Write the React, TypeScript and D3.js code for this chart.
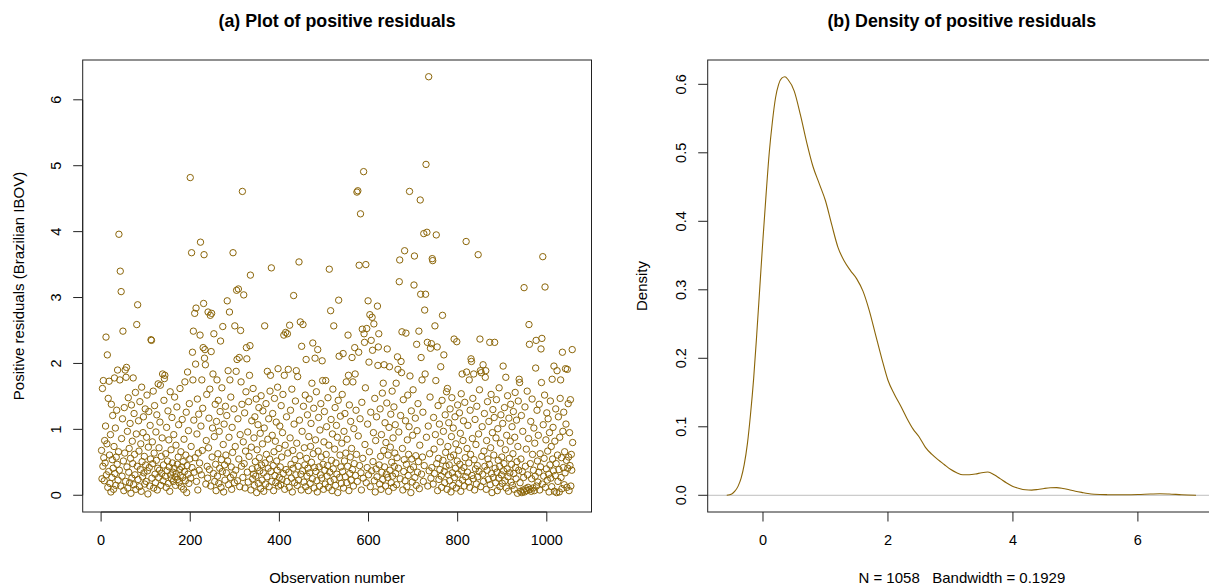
import React from "react";
import * as d3 from "d3";

// Positive residuals, observation 1..1058
const residuals: number[] = [
  0.68,0.25,1.62,0.44,1.74,0.57,0.22,0.83,0.49,1.05,2.40,0.31,0.78,2.13,0.12,1.47,0.36,1.73,0.61,0.18,
  0.92,0.05,1.38,0.27,0.54,1.21,0.41,0.09,0.74,1.78,0.33,1.02,0.15,0.58,1.29,0.47,1.90,0.23,0.66,3.96,
  0.38,1.75,3.40,0.14,3.09,0.86,0.29,1.16,2.49,0.52,0.07,1.33,0.64,1.90,0.21,1.79,1.94,0.43,0.97,0.11,
  1.48,0.35,0.71,0.19,1.09,0.56,0.03,1.37,0.26,0.82,0.48,1.78,0.16,1.24,0.62,0.31,1.56,0.09,0.93,2.59,
  0.44,2.89,0.24,1.13,0.67,0.13,1.42,0.39,0.78,0.06,1.64,0.51,0.28,0.95,1.19,0.34,0.59,0.17,1.31,0.46,
  0.21,0.88,1.52,0.37,0.02,0.73,1.27,0.42,0.14,1.06,0.55,2.36,2.35,0.26,0.81,0.48,1.58,0.11,0.64,1.36,
  0.32,0.19,0.96,0.53,1.22,0.08,0.41,1.69,0.27,0.72,0.38,1.11,1.67,0.15,0.59,0.33,0.87,1.84,0.22,0.46,
  1.44,1.77,1.82,0.29,0.63,0.12,1.03,0.37,0.52,1.28,0.18,0.84,0.43,0.06,1.57,0.31,0.69,0.25,1.18,0.49,
  0.35,0.21,0.92,0.41,1.49,0.28,0.15,0.76,0.33,1.34,0.47,0.24,0.58,1.07,0.19,0.39,1.62,0.30,0.66,0.13,
  0.43,1.15,0.27,0.51,0.09,0.85,0.36,1.72,0.22,0.61,1.26,0.04,0.45,1.87,0.32,0.98,0.18,1.39,0.55,4.82,
  0.26,0.74,3.68,0.42,2.17,1.75,2.49,1.14,0.35,2.76,0.57,1.99,2.84,0.21,0.93,1.46,0.08,0.64,1.23,0.38,
  0.49,2.43,3.84,1.05,0.31,1.75,0.68,1.32,2.24,2.91,3.65,2.08,2.21,1.98,0.17,0.83,1.53,0.44,0.26,2.78,
  0.72,1.17,0.39,1.61,2.73,0.14,2.18,2.76,0.58,1.02,1.84,0.33,2.45,0.89,0.21,1.38,0.47,0.07,1.12,1.75,
  0.29,0.63,1.44,0.18,0.97,0.41,1.27,2.34,0.12,0.54,1.63,0.36,2.56,0.77,0.05,1.08,0.46,0.23,1.35,0.61,
  0.34,1.21,2.95,0.52,1.89,0.16,0.88,2.78,1.75,0.27,1.49,0.43,0.09,1.03,0.65,3.68,0.31,1.31,0.19,2.57,
  0.74,0.38,1.88,3.11,2.06,0.22,1.16,3.13,0.55,2.09,0.13,0.92,2.50,1.72,0.44,1.38,4.61,0.27,0.81,3.04,
  0.48,1.25,0.11,0.67,1.57,2.24,2.07,0.35,0.96,0.20,1.42,0.59,1.82,2.27,3.34,0.08,0.73,1.13,0.40,0.25,
  1.62,0.32,0.87,0.15,1.19,0.51,0.29,1.46,0.04,0.69,0.42,1.07,0.18,1.33,0.57,0.37,0.94,0.10,1.51,0.46,
  0.23,0.78,1.28,0.34,0.06,1.02,2.57,0.49,0.17,1.39,0.62,0.28,1.88,0.85,0.41,1.16,0.13,0.55,1.58,1.82,
  0.36,3.45,0.21,0.91,1.24,0.45,0.07,0.66,1.47,0.30,0.82,0.19,1.11,0.52,0.38,1.64,1.92,0.14,0.71,0.27,
  1.05,0.43,0.16,1.36,0.58,0.24,0.95,1.53,0.33,2.43,1.82,0.09,0.76,2.47,0.39,1.19,0.21,2.45,0.64,1.91,
  0.35,0.12,2.58,0.87,1.29,0.47,0.26,1.61,0.05,0.68,0.41,3.03,1.08,0.19,0.54,1.43,0.31,1.89,0.79,0.15,
  1.80,0.44,0.23,3.54,1.14,0.60,2.63,0.32,0.08,2.26,0.97,0.37,2.59,1.35,0.20,0.72,0.46,1.52,0.13,2.06,
  0.56,0.29,1.22,0.41,0.07,0.89,1.46,0.34,0.18,0.74,1.09,0.50,1.70,0.25,2.31,0.63,1.32,0.11,0.42,2.08,
  0.84,0.36,1.57,0.22,0.05,2.21,0.67,1.18,0.43,0.14,0.99,0.31,1.39,0.58,0.26,2.04,1.74,0.47,0.09,0.81,
  1.27,0.38,0.17,1.74,0.62,1.04,0.29,0.45,1.48,0.12,0.76,3.43,0.35,0.21,2.80,1.15,0.53,0.07,0.93,1.61,
  0.40,2.57,0.24,0.70,1.33,0.15,0.49,1.06,0.32,0.88,0.04,1.44,2.96,2.11,0.27,0.61,1.20,0.43,0.18,0.79,
  1.53,0.36,2.15,0.11,0.97,0.52,1.24,0.28,0.64,1.72,0.19,0.85,0.44,2.43,1.82,0.07,1.37,0.33,0.58,1.12,
  0.23,0.71,2.09,0.39,1.72,0.14,1.01,0.48,2.24,1.84,0.30,1.29,0.62,4.60,0.21,4.62,0.90,2.17,3.49,0.45,
  1.16,4.27,0.34,0.08,1.41,2.52,0.56,0.26,4.91,2.45,2.32,0.77,1.63,3.50,0.19,2.53,0.42,1.08,2.95,0.31,
  2.02,0.66,2.74,0.13,1.26,2.35,0.37,2.70,2.20,0.51,0.95,2.60,0.22,1.47,0.05,0.83,0.40,1.19,0.28,2.87,
  1.97,2.25,2.45,0.46,0.17,1.31,0.59,0.09,0.92,0.35,1.55,0.24,1.70,0.68,1.98,0.43,1.10,0.14,0.80,0.32,
  1.40,2.22,0.27,0.61,0.06,1.03,1.95,0.38,0.73,1.23,0.19,0.50,1.58,0.29,0.87,0.12,1.34,0.44,0.64,1.07,
  0.33,1.70,0.16,0.57,2.10,1.91,0.41,0.96,3.24,3.57,0.25,1.21,2.03,1.86,2.48,0.71,0.08,1.45,0.36,0.54,
  3.71,0.22,1.13,2.46,0.47,0.13,0.84,1.52,0.30,0.62,1.04,4.61,1.81,0.39,0.04,1.28,0.55,0.20,0.91,1.60,
  0.43,3.19,3.63,0.27,1.17,0.60,0.15,2.29,0.98,0.35,1.39,0.51,2.49,0.10,0.76,4.48,3.05,2.09,0.32,1.75,
  0.58,1.26,0.21,3.97,0.45,2.81,1.84,3.05,5.02,0.88,3.99,2.32,0.14,1.05,6.35,0.37,0.63,1.49,2.23,0.26,
  2.30,0.42,3.59,3.56,0.17,1.18,0.70,0.33,2.57,0.92,1.74,3.95,0.48,2.25,0.07,1.36,0.56,0.24,1.08,0.39,
  0.81,1.95,0.29,0.12,1.44,2.73,0.53,0.97,2.13,0.36,0.19,1.22,0.65,0.44,1.57,0.09,1.62,0.74,0.31,1.10,
  0.46,0.22,1.31,0.58,0.05,0.89,1.48,0.34,0.15,1.02,0.61,2.37,0.27,1.19,0.41,0.78,0.11,2.33,0.52,1.37,
  0.32,0.68,0.18,1.25,0.47,0.94,0.06,1.54,0.37,1.84,0.23,0.83,1.13,0.42,0.14,1.41,0.57,0.28,3.85,1.87,
  0.71,0.35,1.06,0.20,0.49,1.75,0.12,1.29,0.62,2.07,2.03,0.30,0.86,1.47,0.25,1.84,0.54,0.08,1.15,0.40,
  0.77,0.17,1.35,0.45,0.28,3.65,0.93,0.36,1.60,2.37,1.89,0.13,1.86,0.59,1.04,0.32,1.98,0.21,0.67,1.24,
  0.44,1.79,1.89,0.09,0.83,0.38,1.42,0.55,0.24,1.12,0.47,2.32,0.16,0.72,1.53,0.33,0.04,0.95,1.30,0.27,
  0.61,1.18,2.32,0.41,0.19,0.87,1.45,0.35,0.07,1.01,0.53,0.26,1.63,0.44,0.13,0.79,1.22,0.31,0.58,0.18,
  1.09,1.96,0.37,0.48,1.33,0.22,0.69,1.79,0.11,0.91,0.40,1.51,0.28,0.06,1.17,0.56,0.34,0.82,1.38,0.20,
  0.47,1.04,0.15,0.63,1.27,0.33,0.09,0.88,1.56,0.42,0.25,1.14,0.51,0.03,0.74,1.43,0.38,1.76,1.71,0.19,
  0.06,0.55,1.21,0.04,0.36,0.97,0.08,0.27,3.15,0.05,1.34,0.44,0.10,0.70,0.07,1.58,0.31,0.12,0.86,2.59,
  2.29,0.09,0.48,1.12,0.06,0.25,1.46,0.62,0.11,0.38,1.02,0.07,0.79,0.29,1.93,2.35,0.14,1.29,0.52,0.20,
  0.91,0.35,1.38,0.08,0.63,0.43,2.22,1.71,2.38,0.17,3.62,1.07,0.29,0.56,1.52,3.16,0.12,0.84,0.40,1.25,
  0.23,0.67,1.16,0.32,0.05,0.95,0.46,1.43,0.26,0.74,0.13,1.76,0.55,1.03,0.37,1.96,0.06,0.82,0.30,1.31,
  0.48,0.04,1.89,0.61,0.21,1.19,0.39,0.05,0.88,1.47,1.75,0.27,0.57,0.10,2.17,0.97,0.42,1.26,0.16,0.66,
  0.34,1.92,1.08,0.53,0.12,1.91,0.41,1.39,0.58,0.07,0.95,0.45,1.45,0.14,0.62,0.38,2.21,0.80,
];

const xTicksA = [0, 200, 400, 600, 800, 1000];
const yTicksA = [0, 1, 2, 3, 4, 5, 6];

// Kernel density curve
const densityX = [
  -0.58, -0.5, -0.45, -0.4, -0.35, -0.3, -0.25, -0.2, -0.15, -0.1, -0.05, 0, 0.05, 0.1, 0.15, 0.2, 0.25,
  0.3, 0.35, 0.4, 0.5, 0.6, 0.7, 0.8, 0.9, 1.0, 1.1, 1.2, 1.3, 1.4, 1.5, 1.6, 1.7, 1.8, 1.9, 2.0, 2.1,
  2.2, 2.3, 2.4, 2.5, 2.6, 2.7, 2.8, 2.9, 3.0, 3.1, 3.2, 3.3, 3.4, 3.5, 3.6, 3.7, 3.8, 3.9, 4.0, 4.1,
  4.2, 4.3, 4.4, 4.5, 4.6, 4.7, 4.8, 4.9, 5.0, 5.1, 5.2, 5.3, 5.5, 5.8, 6.0, 6.2, 6.35, 6.5, 6.7, 6.93,
];
const densityY = [
  0, 0.002, 0.006, 0.013, 0.025, 0.045, 0.075, 0.118, 0.17, 0.235, 0.305, 0.375, 0.44, 0.5, 0.545, 0.58, 0.6,
  0.609, 0.611, 0.607, 0.59, 0.555, 0.515, 0.48, 0.455, 0.43, 0.395, 0.362, 0.342, 0.328, 0.316, 0.298, 0.27, 0.235, 0.2, 0.168, 0.148,
  0.131, 0.113, 0.097, 0.085, 0.07, 0.06, 0.052, 0.045, 0.038, 0.033, 0.03, 0.03, 0.031, 0.033, 0.034, 0.03, 0.024, 0.018, 0.013, 0.01,
  0.008, 0.0075, 0.0085, 0.01, 0.011, 0.0112, 0.01, 0.008, 0.006, 0.0042, 0.0025, 0.0015, 0.0009, 0.0008, 0.0011, 0.0018, 0.0022, 0.0018, 0.0008, 0.0001,
];
const xTicksB = [0, 2, 4, 6];
const yTicksB = [0, 0.1, 0.2, 0.3, 0.4, 0.5, 0.6];

const COL = "#8B6508";
const FONT = "'Liberation Sans', Arial, Helvetica, sans-serif";

export default function App() {
  const W = 1209, H = 587;
  const n = residuals.length;

  // Panel (a)
  const ax = d3.scaleLinear().domain([1 - 0.04 * (n - 1), n + 0.04 * (n - 1)]).range([82.7, 591.5]);
  const ay = d3.scaleLinear().domain([-0.254, 6.604]).range([512, 60]);

  // Panel (b)
  const bx = d3.scaleLinear().domain([-0.885, 7.25]).range([707.7, 1216]);
  const by = d3.scaleLinear().domain([-0.0244, 0.6355]).range([512, 60]);
  const pts = densityX.map((x, i) => [x, densityY[i]] as [number, number]);
  const line = d3.line<[number, number]>().x((d) => bx(d[0])).y((d) => by(d[1])).curve(d3.curveMonotoneX);

  const aBox = { l: ax.range()[0], r: ax.range()[1], t: 60, b: 512 };
  const bBox = { l: bx.range()[0], r: bx.range()[1], t: 60, b: 512 };

  return (
    <svg width={W} height={H} style={{ position: "absolute", left: 0, top: 0, background: "#fff" }} fontFamily={FONT}>
      <rect x={0} y={0} width={W} height={H} fill="#fff" />
      {/* ---------- Panel (a) ---------- */}
      <text x={(aBox.l + aBox.r) / 2} y={27} textAnchor="middle" fontWeight="bold" fontSize={17.8}>
        (a) Plot of positive residuals
      </text>
      <rect x={aBox.l} y={aBox.t} width={aBox.r - aBox.l} height={aBox.b - aBox.t} fill="none" stroke="#222" strokeWidth={1} />
      {residuals.map((v, i) => (
        <circle key={i} cx={ax(i + 1)} cy={ay(v)} r={3.2} fill="none" stroke={COL} strokeWidth={1} />
      ))}
      {xTicksA.map((t) => (
        <g key={"xa" + t}>
          <line x1={ax(t)} x2={ax(t)} y1={aBox.b} y2={aBox.b + 9.5} stroke="#222" />
          <text x={ax(t)} y={545} textAnchor="middle" fontSize={14.5}>{t}</text>
        </g>
      ))}
      <line x1={ax(0)} x2={ax(1000)} y1={aBox.b} y2={aBox.b} stroke="#222" />
      {yTicksA.map((t) => (
        <g key={"ya" + t}>
          <line x1={aBox.l - 9.5} x2={aBox.l} y1={ay(t)} y2={ay(t)} stroke="#222" />
          <text transform={`translate(61,${ay(t)}) rotate(-90)`} textAnchor="middle" fontSize={14.5}>{t}</text>
        </g>
      ))}
      <line x1={aBox.l} x2={aBox.l} y1={ay(0)} y2={ay(6)} stroke="#222" />
      <text x={(aBox.l + aBox.r) / 2} y={583} textAnchor="middle" fontSize={15}>Observation number</text>
      <text transform={`translate(23.5,${(aBox.t + aBox.b) / 2}) rotate(-90)`} textAnchor="middle" fontSize={15}>
        Positive residuals (Brazilian IBOV)
      </text>

      {/* ---------- Panel (b) ---------- */}
      <text x={(bBox.l + bBox.r) / 2} y={27} textAnchor="middle" fontWeight="bold" fontSize={17.8}>
        (b) Density of positive residuals
      </text>
      <line x1={bBox.l} x2={bBox.r} y1={by(0)} y2={by(0)} stroke="#bebebe" strokeWidth={1} />
      <path d={line(pts) || ""} fill="none" stroke={COL} strokeWidth={1.1} />
      <rect x={bBox.l} y={bBox.t} width={bBox.r - bBox.l} height={bBox.b - bBox.t} fill="none" stroke="#222" strokeWidth={1} />
      {xTicksB.map((t) => (
        <g key={"xb" + t}>
          <line x1={bx(t)} x2={bx(t)} y1={bBox.b} y2={bBox.b + 9.5} stroke="#222" />
          <text x={bx(t)} y={545} textAnchor="middle" fontSize={14.5}>{t}</text>
        </g>
      ))}
      {yTicksB.map((t) => (
        <g key={"yb" + t}>
          <line x1={bBox.l - 9.5} x2={bBox.l} y1={by(t)} y2={by(t)} stroke="#222" />
          <text transform={`translate(686,${by(t)}) rotate(-90)`} textAnchor="middle" fontSize={14.5}>
            {d3.format(".1f")(t)}
          </text>
        </g>
      ))}
      <text x={(bBox.l + bBox.r) / 2} y={583} textAnchor="middle" fontSize={15} style={{ whiteSpace: "pre" }}>
        {"N = 1058   Bandwidth = 0.1929"}
      </text>
      <text transform={`translate(647,${(bBox.t + bBox.b) / 2}) rotate(-90)`} textAnchor="middle" fontSize={15}>
        Density
      </text>
    </svg>
  );
}
